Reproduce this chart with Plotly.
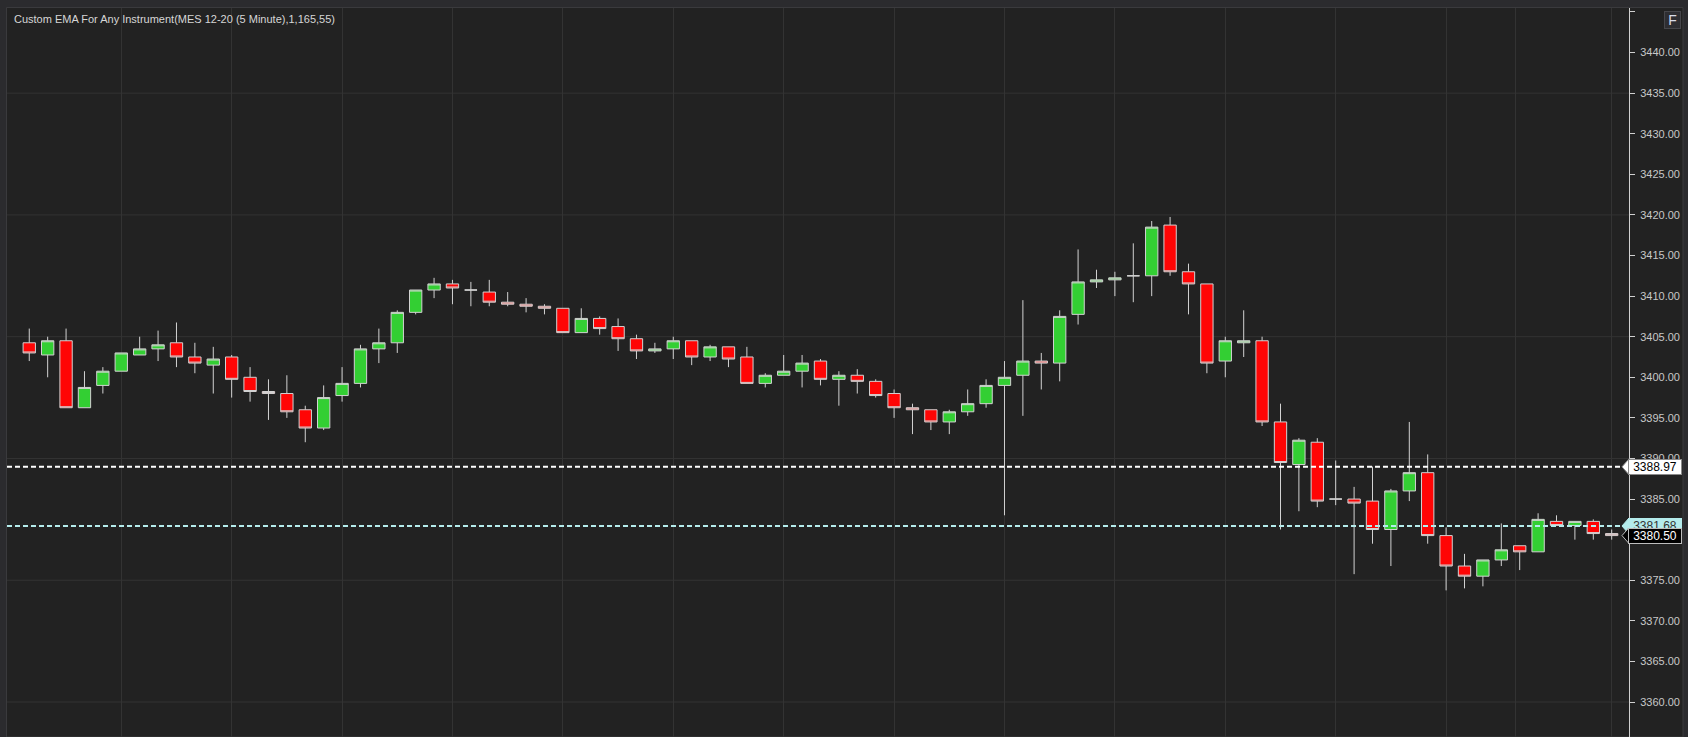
import plotly.graph_objects as go

# MES 12-20, 5 minute bars
opens = [3404.25, 3402.75, 3404.5, 3396.25, 3399, 3400.75, 3402.75, 3403.5, 3404.25, 3402.5,
         3401.5, 3402.5, 3400, 3398.25, 3398, 3396, 3393.75, 3397.75, 3399.25, 3403.5,
         3404.25, 3408, 3410.75, 3411.5, 3410.75, 3410.5, 3409.25, 3409, 3408.75, 3408.5,
         3405.5, 3407.25, 3406.25, 3404.75, 3403.25, 3403.5, 3404.5, 3402.5, 3403.75, 3402.5,
         3399.25, 3400.25, 3400.75, 3402, 3399.75, 3400.25, 3399.5, 3398, 3396.25, 3396,
         3394.5, 3395.75, 3396.75, 3399, 3400.25, 3402, 3401.75, 3407.75, 3411.75, 3412,
         3412.5, 3412.5, 3418.75, 3413, 3411.5, 3402, 3404.25, 3404.5, 3394.5, 3389.25,
         3392, 3385, 3385, 3384.75, 3381.25, 3386, 3388.25, 3380.5, 3376.75, 3375.5,
         3377.5, 3379.25, 3378.5, 3382.25, 3381.75, 3382.25, 3380.75]
highs = [3406, 3405, 3406, 3400.75, 3401.25, 3403, 3405, 3405.75, 3406.75, 3404.25,
         3403.75, 3402.75, 3401.25, 3399.75, 3400.25, 3396.5, 3399, 3401.25, 3404, 3406,
         3408.25, 3410.75, 3412.25, 3412, 3411.75, 3412, 3410.5, 3409.75, 3409, 3408.5,
         3408.5, 3407.5, 3407.25, 3405.25, 3404.25, 3405, 3404.5, 3404, 3403.75, 3403.75,
         3400.5, 3402.75, 3402.75, 3402.25, 3400.75, 3401, 3399.75, 3398.5, 3396.75, 3396,
         3396, 3398.5, 3399.75, 3402, 3409.5, 3403, 3408.25, 3415.75, 3413.25, 3413,
         3416.5, 3419.25, 3419.75, 3414, 3411.5, 3405, 3408.25, 3405, 3396.75, 3392.5,
         3392.5, 3389.75, 3386.5, 3389, 3386.25, 3394.5, 3390.5, 3381.5, 3378.25, 3377.5,
         3382, 3379.25, 3383.25, 3383, 3382.25, 3382.5, 3381.25]
lows = [3402, 3400, 3396.25, 3396.25, 3398, 3400.75, 3402.75, 3402, 3401.25, 3400.5,
        3398, 3397.5, 3397, 3394.75, 3395, 3392, 3393.5, 3397, 3398.75, 3401.75,
        3403, 3407.75, 3409.75, 3409, 3408.75, 3408.75, 3408.75, 3408, 3407.75, 3405.5,
        3405.5, 3405.25, 3403.25, 3402.25, 3403, 3402.25, 3401.5, 3402, 3401.25, 3399.25,
        3398.75, 3400.25, 3398.75, 3399, 3396.5, 3398, 3397.5, 3395, 3393, 3393.5,
        3393, 3395.25, 3396.25, 3383, 3395.25, 3398.5, 3399.5, 3406.5, 3411, 3410,
        3409.25, 3410, 3412.5, 3407.75, 3400.5, 3400, 3402.5, 3394, 3381.25, 3383.5,
        3384, 3384.25, 3375.75, 3379.5, 3376.75, 3384.75, 3379.5, 3373.75, 3374, 3374.25,
        3376.75, 3376.25, 3378.5, 3381.75, 3380, 3380, 3380]
closes = [3403, 3404.5, 3396.25, 3398.75, 3400.75, 3403, 3403.5, 3404, 3402.5, 3401.75,
          3402.25, 3399.75, 3398.25, 3398, 3395.75, 3393.75, 3397.5, 3399.25, 3403.5, 3404.25,
          3408, 3410.75, 3411.5, 3411, 3410.75, 3409.25, 3409, 3408.75, 3408.5, 3405.5,
          3407.25, 3406, 3404.75, 3403.25, 3403.5, 3404.5, 3402.5, 3403.75, 3402.25, 3399.25,
          3400.25, 3400.75, 3401.75, 3399.75, 3400.25, 3399.5, 3397.75, 3396.25, 3396, 3394.5,
          3395.75, 3396.75, 3399, 3400, 3402, 3401.75, 3407.5, 3411.75, 3412, 3412.25,
          3412.5, 3418.5, 3413, 3411.5, 3401.75, 3404.5, 3404.5, 3394.5, 3389.5, 3392.25,
          3384.75, 3385, 3384.5, 3381.25, 3386, 3388.25, 3380.5, 3376.75, 3375.5, 3377.5,
          3378.75, 3378.5, 3382.5, 3381.75, 3382.25, 3380.75, 3380.5]
bar_index = list(range(len(opens)))

# vertical (time) grid positions, in bars
time_grid = [5, 11, 17, 23, 29, 35, 41, 47, 53, 59, 65, 71, 77, 80.76, 86]
price_grid = [3360, 3375, 3390, 3405, 3420, 3435]
price_ticks = list(range(3360, 3446, 5))

# price markers: value, fill, text colour, border
markers = [
    (3388.97, "#ffffff", "#000000", "#8a8a8a"),
    (3381.68, "#b4ecec", "#333333", "#b4ecec"),
    (3380.50, "#000000", "#ffffff", "#bdbdbd"),
]
dashed_lines = [(3388.97, "#ffffff"), (3381.68, "#b4ecec")]

title_text = "Custom EMA For Any Instrument(MES 12-20 (5 Minute),1,165,55)"

W, H = 1688, 737
ML, MR, MT, MB = 7, 59, 8, 0
plot_w = W - ML - MR
plot_h = H - MT - MB
y_lo, y_hi = 3355.69, 3445.49
x_lo, x_hi = -1.21, 86.94
FONT = "Liberation Sans, Arial, sans-serif"


def px_x(px):
    return (px - ML) / plot_w


def px_y(px):
    return (H - MB - px) / plot_h


pt_per_px = (y_hi - y_lo) / plot_h

fig = go.Figure(go.Candlestick(
    x=bar_index, open=opens, high=highs, low=lows, close=closes,
    increasing=dict(fillcolor="#33cf33", line=dict(color="#d2d2d2", width=1)),
    decreasing=dict(fillcolor="#ff0505", line=dict(color="#d2d2d2", width=1)),
    whiskerwidth=0,
    showlegend=False,
    hoverinfo="skip",
))

shapes = []
# inner panel
shapes.append(dict(type="rect", xref="paper", yref="paper",
                   x0=px_x(6.5), x1=px_x(1683), y0=px_y(737), y1=px_y(7.5),
                   fillcolor="#222222", line=dict(color="#3a3a3d", width=1), layer="below"))
for lvl in price_grid:
    shapes.append(dict(type="line", xref="paper", yref="y", x0=0, x1=1, y0=lvl, y1=lvl,
                       line=dict(color="#333333", width=1), layer="below"))
for val, col in dashed_lines:
    shapes.append(dict(type="line", xref="paper", yref="y", x0=0, x1=px_x(1622), y0=val, y1=val,
                       line=dict(color=col, width=2, dash="5px,3px"), layer="above"))

annotations = []
hh = 8 * pt_per_px
for val, fill, tcol, bcol in markers:
    shapes.append(dict(type="path", xref="paper", yref="y",
                       path=f"M {px_x(1622)},{val} L {px_x(1629)},{val + hh} L {px_x(1629)},{val - hh} Z",
                       fillcolor=fill, line=dict(color=bcol, width=1), layer="above"))
    annotations.append(dict(xref="paper", yref="y", x=px_x(1655), y=val, text=f"{val:.2f}",
                            showarrow=False, xanchor="center", yanchor="middle",
                            width=52, height=14, borderpad=0, borderwidth=1,
                            bgcolor=fill, bordercolor=bcol,
                            font=dict(family=FONT, size=12, color=tcol)))

annotations.append(dict(xref="paper", yref="paper", x=px_x(12), y=px_y(19), text=title_text,
                        showarrow=False, xanchor="left", yanchor="middle",
                        font=dict(family=FONT, size=11, color="#d6d6d6")))
annotations.append(dict(xref="paper", yref="paper", x=px_x(1672.5), y=px_y(20), text="F",
                        showarrow=False, xanchor="center", yanchor="middle",
                        width=15, height=16, borderpad=0, borderwidth=1,
                        bgcolor="#2e2e32", bordercolor="#47474b",
                        font=dict(family=FONT, size=14, color="#d8dce8")))

fig.update_layout(
    template="none",
    width=W, height=H,
    margin=dict(l=ML, r=MR, t=MT, b=MB, pad=0),
    paper_bgcolor="#2b2b2e",
    plot_bgcolor="#222222",
    boxgap=0.33, boxgroupgap=0,
    showlegend=False,
    shapes=shapes,
    annotations=annotations,
    xaxis=dict(range=[x_lo, x_hi], tickvals=time_grid, showticklabels=False, ticks="",
               showgrid=True, gridcolor="#333333", gridwidth=1, zeroline=False,
               showline=False, rangeslider=dict(visible=False), fixedrange=True),
    yaxis=dict(side="right", range=[y_lo, y_hi], tickvals=price_ticks,
               ticktext=[f"{v:.2f}" if v <= 3440 else "" for v in price_ticks],
               showgrid=False, zeroline=False, showline=True, linecolor="#d0d0d0", linewidth=1,
               ticks="outside", ticklen=5, tickcolor="#d0d0d0", tickwidth=1,
               ticklabelstandoff=3,
               tickfont=dict(family=FONT, size=11, color="#c8c8c8"), fixedrange=True),
)

fig.write_html("out.html", config={"displayModeBar": False},
               post_script="document.body.style.margin='0';document.body.style.overflow='hidden';")
